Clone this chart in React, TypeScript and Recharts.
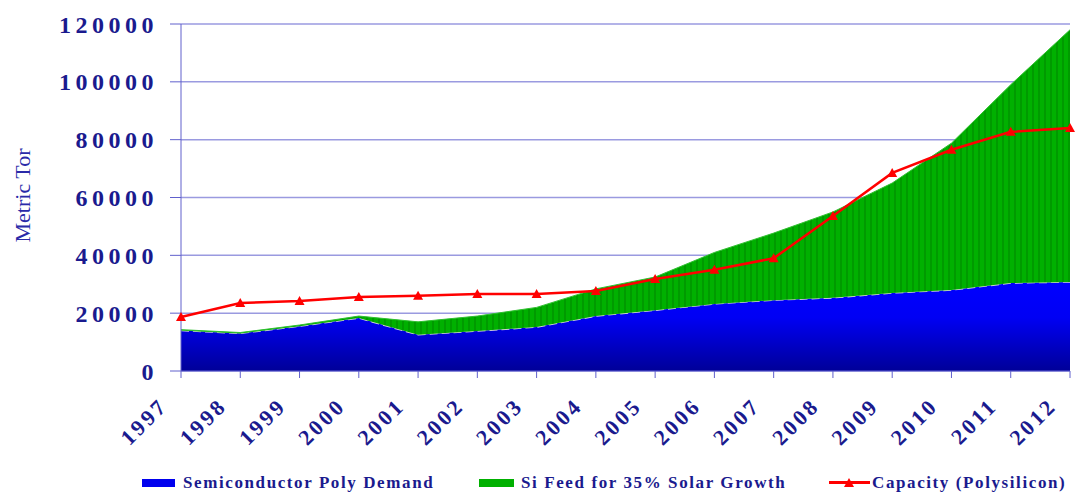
import { ComposedChart, Area, Line, XAxis, YAxis, CartesianGrid } from "recharts";

const years = ["1997", "1998", "1999", "2000", "2001", "2002", "2003", "2004", "2005", "2006", "2007", "2008", "2009", "2010", "2011", "2012"];
const semiconductorDemand = [14000, 13000, 15500, 18300, 12500, 13800, 15200, 19000, 21000, 23200, 24500, 25300, 27000, 28000, 30400, 30800];
const solarFeed = [300, 300, 400, 700, 4500, 5200, 6800, 9400, 11500, 17800, 23200, 29700, 38000, 50800, 68600, 87200];
const capacity = [18700, 23500, 24200, 25600, 26000, 26600, 26600, 27700, 31800, 35000, 39000, 53600, 68500, 76500, 82700, 84000];
const yTicks = [0, 20000, 40000, 60000, 80000, 100000, 120000];

const chartData = years.map((y, i) => ({
  year: y,
  semi: semiconductorDemand[i],
  solar: solarFeed[i],
  cap: capacity[i],
}));

const navy = "#1a1a8e";
const serif = '"Liberation Serif", "Times New Roman", serif';

const Triangle = (props: any) => {
  const { cx, cy } = props;
  if (cx == null || cy == null) return null;
  return <path d={`M${cx},${cy - 5} L${cx + 5},${cy + 4} L${cx - 5},${cy + 4} Z`} fill="#ff0000" />;
};

// rotated year labels, baseline end sits down-left of the tick
const XTick = (props: any) => {
  const { x, y, payload } = props;
  const ax = x - 12;
  const ay = y + 27;
  return (
    <text
      x={ax}
      y={ay}
      transform={`rotate(-45, ${ax}, ${ay})`}
      textAnchor="end"
      fill={navy}
      fontFamily={serif}
      fontWeight="bold"
      fontSize={22}
      letterSpacing={3}
    >
      {payload.value}
    </text>
  );
};

const YLabel = (props: any) => {
  const { viewBox } = props;
  const x = viewBox.x + 22;
  const y = viewBox.y + viewBox.height / 2 - 2;
  return (
    <text x={x} y={y} transform={`rotate(-90, ${x}, ${y})`} textAnchor="middle" dominantBaseline="central"
      fill="#2a2aa8" fontFamily={serif} fontSize={22}>
      Metric Tor
    </text>
  );
};

const legendText = { fontFamily: serif, fontWeight: 700, fontSize: 17, letterSpacing: 1.6, color: navy, position: "absolute" as const, top: 0, lineHeight: "20px", whiteSpace: "nowrap" as const };

export default function App() {
  return (
    <div style={{ position: "absolute", left: 0, top: 0, width: 1076, height: 492, background: "#fff" }}>
      <ComposedChart width={1076} height={492} data={chartData} margin={{ top: 24, right: 6, bottom: 0, left: 0 }}>
        <defs>
          <linearGradient id="blueGrad" x1="0" y1="0" x2="0" y2="1">
            <stop offset="0%" stopColor="#0000ff" />
            <stop offset="40%" stopColor="#0000f4" />
            <stop offset="100%" stopColor="#000098" />
          </linearGradient>
          <pattern id="greenStripes" width="6" height="10" patternUnits="userSpaceOnUse">
            <rect width="6" height="10" fill="#00b000" />
            <rect width="2" height="10" fill="#009a00" />
          </pattern>
        </defs>
        <CartesianGrid vertical={false} stroke="#9a9ae0" strokeWidth={1.5} />
        <XAxis dataKey="year" scale="point" height={121} interval={0} tick={<XTick />}
          axisLine={{ stroke: "#6060cc" }} tickLine={{ stroke: "#6060cc" }} tickSize={7} />
        <YAxis width={181} domain={[0, 120000]} ticks={yTicks} interval={0}
          axisLine={{ stroke: "#6060cc" }} tickLine={{ stroke: "#6060cc" }} tickSize={11}
          tick={{ fill: navy, fontFamily: serif, fontWeight: "bold", fontSize: 24, letterSpacing: 4.5 }}
          tickMargin={12} label={<YLabel />} />
        <Area type="linear" dataKey="semi" stackId="a" stroke="#d8d8d8" strokeDasharray="8 4" strokeWidth={1.5}
          fill="url(#blueGrad)" fillOpacity={1} isAnimationActive={false} name="Semiconductor Poly Demand" />
        <Area type="linear" dataKey="solar" stackId="a" stroke="#30c030" strokeWidth={1}
          fill="url(#greenStripes)" fillOpacity={1} isAnimationActive={false} name="Si Feed for 35% Solar Growth" />
        <Line type="linear" dataKey="cap" stroke="#ff0000" strokeWidth={2.5} dot={<Triangle />}
          isAnimationActive={false} name="Capacity (Polysilicon)" />
      </ComposedChart>
      <div style={{ position: "absolute", left: 0, top: 473, width: 1076, height: 20 }}>
        <div style={{ position: "absolute", left: 142, top: 6, width: 33, height: 8, background: "#0000ee" }} />
        <span style={{ ...legendText, left: 183 }}>Semiconductor Poly Demand</span>
        <div style={{ position: "absolute", left: 479, top: 6, width: 35, height: 8, background: "#00b000" }} />
        <span style={{ ...legendText, left: 521 }}>Si Feed for 35% Solar Growth</span>
        <div style={{ position: "absolute", left: 829, top: 8, width: 41, height: 3, background: "#ff0000" }} />
        <svg style={{ position: "absolute", left: 843, top: 4 }} width={12} height={12}>
          <path d="M6,1 L11,10 L1,10 Z" fill="#ff0000" />
        </svg>
        <span style={{ ...legendText, left: 872 }}>Capacity (Polysilicon)</span>
      </div>
    </div>
  );
}
